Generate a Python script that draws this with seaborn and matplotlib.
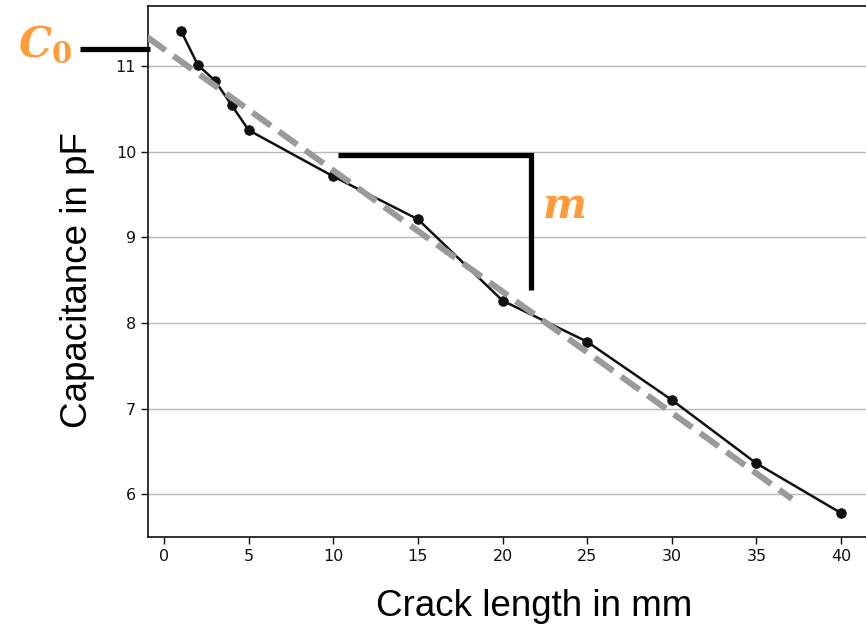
import matplotlib
matplotlib.use("Agg")
import matplotlib.pyplot as plt
import seaborn as sns
import pandas as pd
import numpy as np
from matplotlib.lines import Line2D

crack_mm = [1, 2, 3, 4, 5, 10, 15, 20, 25, 30, 35, 40]
capacitance_pf = [11.41, 11.01, 10.83, 10.54, 10.25, 9.71, 9.21, 8.26, 7.78, 7.10, 6.36, 5.78]
fit_x = [-1.0, 37.1]
fit_intercept = 11.195
fit_slope = -0.1415
x_ticks = [0, 5, 10, 15, 20, 25, 30, 35, 40]
y_ticks = [6, 7, 8, 9, 10, 11]

sns.set_theme(style="ticks")
plt.rcParams["font.family"] = ["DejaVu Sans"]
plt.rcParams["mathtext.fontset"] = "custom"
plt.rcParams["mathtext.it"] = "DejaVu Serif:italic:bold"
plt.rcParams["mathtext.rm"] = "DejaVu Serif:bold"

W, H = 866, 630
fig = plt.figure(figsize=(W / 100, H / 100), dpi=100)
ax = fig.add_axes([148 / W, (H - 537) / H, (885 - 148) / W, (537 - 6) / H])

df = pd.DataFrame({"x": crack_mm, "y": capacitance_pf})
fit_df = pd.DataFrame({"x": fit_x, "y": [fit_intercept + fit_slope * v for v in fit_x]})

ax.grid(axis="y", color="#b8b8b8", linewidth=1.0)
ax.set_axisbelow(True)
sns.lineplot(data=df, x="x", y="y", ax=ax, color="#111111", linewidth=1.8,
             marker="o", markersize=6.8, markeredgecolor="#111111", zorder=3)
sns.lineplot(data=fit_df, x="x", y="y", ax=ax, color="#9a9a9a", linewidth=4.4,
             zorder=4)
ax.lines[-1].set_dashes([3.7, 1.6])

ax.set_xlim(-0.95, 42.6)
ax.set_ylim(5.5, 11.70)
ax.set_xticks(x_ticks)
ax.set_yticks(y_ticks)
ax.tick_params(labelsize=11.5, length=5, width=1, colors="#111111")
for s in ax.spines.values():
    s.set_color("#111111")
    s.set_linewidth(1.2)
ax.set_xlabel("")
ax.set_ylabel("")

fig.text(534 / W, 1 - 607 / H, "Crack length in mm", ha="center", va="center",
         fontsize=26.5, family="Liberation Sans", color="black")
fig.text(78 / W, 1 - 280 / H, "Capacitance in pF", ha="center", va="center",
         fontsize=26.5, family="Liberation Sans", color="black", rotation=90)

orange = "#FF9B3A"
# C0 marker
fig.add_artist(Line2D([80 / W, 150 / W], [1 - 49 / H, 1 - 49 / H], color="black",
                      linewidth=3.8, transform=fig.transFigure, solid_capstyle="butt"))
fig.text(45 / W, 1 - 44 / H, r"$C_0$", ha="center", va="center", fontsize=30, color=orange)
# slope bracket
fig.add_artist(Line2D([338 / W, 531 / W, 531 / W], [1 - 155 / H, 1 - 155 / H, 1 - 290 / H],
                      color="black", linewidth=3.8, transform=fig.transFigure,
                      solid_capstyle="butt", solid_joinstyle="miter"))
fig.text(564 / W, 1 - 206 / H, r"$m$", ha="center", va="center", fontsize=30, color=orange)

fig.savefig("out.png", dpi=100)
